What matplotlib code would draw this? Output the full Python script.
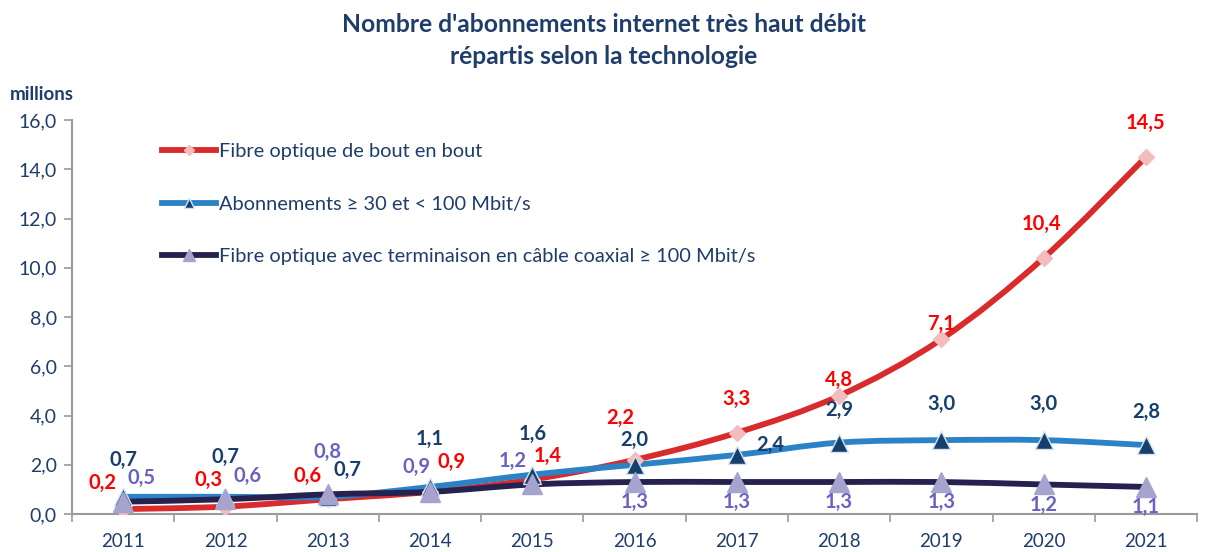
"""
Abonnements internet tres haut debit par technologie, 2011-2021
"""

import numpy as np
import matplotlib
matplotlib.use("Agg")
from matplotlib import pyplot as plt
from matplotlib.path import Path
from matplotlib.patches import PathPatch
from matplotlib.lines import Line2D

years = ["2011", "2012", "2013", "2014", "2015", "2016", "2017", "2018", "2019", "2020", "2021"]
fibre_ftth = [0.2, 0.3, 0.6, 0.9, 1.4, 2.2, 3.3, 4.8, 7.1, 10.4, 14.5]
abo_30_100 = [0.7, 0.7, 0.7, 1.1, 1.6, 2.0, 2.4, 2.9, 3.0, 3.0, 2.8]
fibre_coax = [0.5, 0.6, 0.8, 0.9, 1.2, 1.3, 1.3, 1.3, 1.3, 1.2, 1.1]
series_names = ["Fibre optique de bout en bout",
                "Abonnements \u2265 30 et < 100 Mbit/s",
                "Fibre optique avec terminaison en c\u00e2ble coaxial \u2265 100 Mbit/s"]

navy = "#1F3D6B"
plt.rcParams['font.family'] = ['Lato', 'DejaVu Sans']

fig = plt.figure(figsize=(12.08, 5.52), dpi=100)
ax = fig.add_axes([0.0596, 0.0688, 0.9314, 0.7138])
x = np.arange(len(years))


def smooth_path(xs, ys):
    # excel-like smoothed line (cardinal bezier through the points)
    pts = np.column_stack([xs, ys]).astype(float)
    verts = [pts[0]]
    codes = [Path.MOVETO]
    n = len(pts)
    for i in range(n - 1):
        p0 = pts[i - 1] if i > 0 else pts[i]
        p1, p2 = pts[i], pts[i + 1]
        p3 = pts[i + 2] if i + 2 < n else pts[i + 1]
        c1 = p1 + (p2 - p0) / 6.
        c2 = p2 - (p3 - p1) / 6.
        verts += [c1, c2, p2]
        codes += [Path.CURVE4] * 3
    return Path(verts, codes)


# (values, line colour, marker, marker face, marker edge, marker size)
styles = [
    (fibre_ftth, "#D92A2C", "D", "#F4BDBD", "#F4BDBD", 8),
    (abo_30_100, "#2B83C6", "^", "#173F6B", "#CFE3F3", 13),
    (fibre_coax, "#25224F", "^", "#A7A3CF", "#A7A3CF", 14),
]

for vals, lc, mk, mf, me, ms in styles:
    ax.add_patch(PathPatch(smooth_path(x, vals), facecolor="none", edgecolor=lc,
                           lw=4.2, capstyle="round", joinstyle="round", zorder=2))
    ax.plot(x, vals, ls="none", marker=mk, ms=ms, mfc=mf, mec=me, mew=1, zorder=3)

# data labels, offsets in pixels (dx, dy)
red_off = [(-21, 26), (-17, 27), (-20, 23), (22, 30), (15, 24), (-14, 42), (0, 34), (0, 16), (0, 15), (-2, 34), (-1, 34)]
blue_off = [(0, 37), (0, 40), (20, 27), (0, 48), (0, 41), (0, 25), (33, 10), (0, 33), (0, 36), (0, 36), (0, 33)]
purple_off = [(18, 24), (22, 23), (0, 42), (-13, 25), (-20, 24), (0, -20), (0, -20), (0, -20), (0, -20), (0, -20), (0, -20)]
label_sets = [(fibre_ftth, red_off, "#FF0000"),
              (abo_30_100, blue_off, "#173F6B"),
              (fibre_coax, purple_off, "#6A62C2")]
for vals, offs, col in label_sets:
    for xi, v, (dx, dy) in zip(x, vals, offs):
        ax.annotate(f"{v:.1f}".replace(".", ","), (xi, v), xytext=(dx, dy),
                    textcoords="offset pixels", ha="center", va="center",
                    fontsize=14.5, fontweight="bold", color=col, zorder=5)

ax.set_xlim(-0.5, len(years) - 0.5)
ax.set_ylim(0, 16)
ax.set_yticks(np.arange(0, 17, 2))
ax.set_yticklabels([f"{t:.1f}".replace(".", ",") for t in np.arange(0, 17, 2)])
ax.set_xticks(x)
ax.set_xticklabels(years)
ax.set_xticks(np.arange(-0.5, len(years), 1), minor=True)
ax.tick_params(axis="x", which="major", length=0, pad=14, labelsize=13.5, labelcolor=navy)
ax.tick_params(axis="x", which="minor", length=6, color="#9A9A9A", width=1.2)
ax.tick_params(axis="y", length=6, color="#9A9A9A", width=1.2, labelsize=14, labelcolor=navy, pad=5)
for s in ["top", "right"]:
    ax.spines[s].set_visible(False)
for s in ["left", "bottom"]:
    ax.spines[s].set_color("#9A9A9A")
    ax.spines[s].set_linewidth(1.5)

handles = [Line2D([], [], color=lc, lw=4.2, marker=mk, ms=ms * 0.6, mfc=mf, mec=me)
           for vals, lc, mk, mf, me, ms in styles]
fig.legend(handles, series_names, loc="upper left", bbox_to_anchor=(0.1345, 0.741),
           frameon=False, fontsize=14.4, labelcolor=navy, handlelength=2.7,
           handletextpad=0.12, labelspacing=1.78, borderpad=0, borderaxespad=0)

fig.text(0.5, 0.927, "Nombre d'abonnements internet tr\u00e8s haut d\u00e9bit\nr\u00e9partis selon la technologie",
         ha="center", va="center", fontsize=17.7, fontweight="bold", color=navy, linespacing=1.45)
fig.text(0.008, 0.828, "millions", ha="left", va="center", fontsize=13.5, fontweight="bold", color=navy)

fig.savefig("out.png", dpi=100)
